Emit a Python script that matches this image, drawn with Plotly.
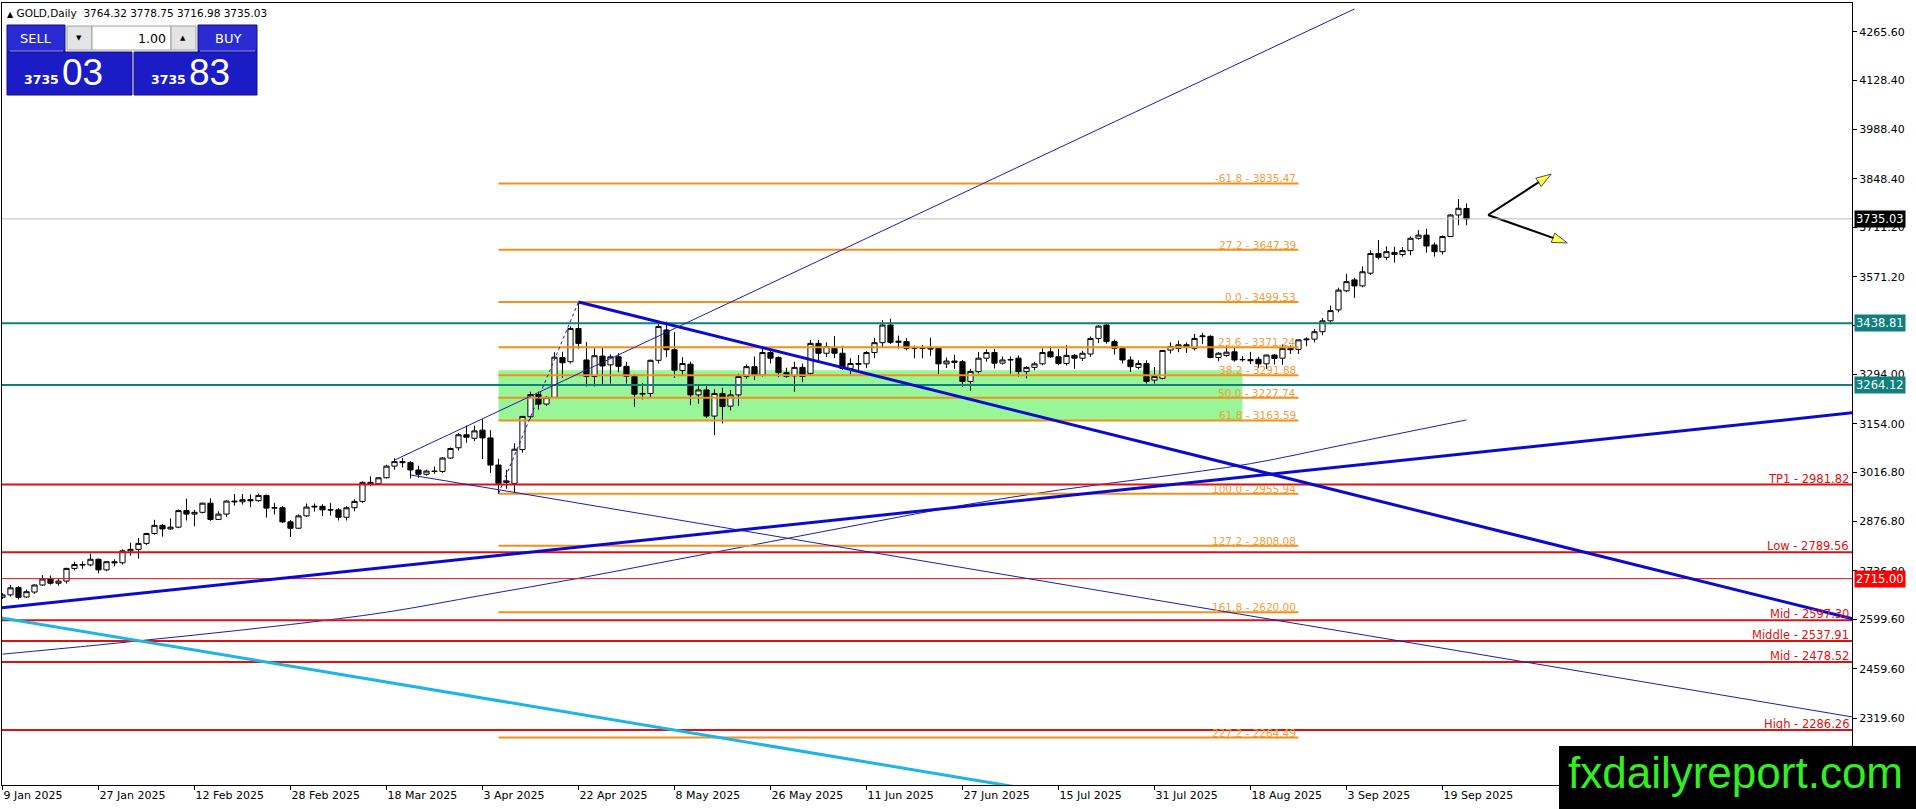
"""GOLD daily chart (MT4 style) rebuilt with Plotly."""

import plotly.graph_objects as go

# ------------------------------------------------------------------ #
# Data
# ------------------------------------------------------------------ #
TICK_BARS = [0, 12, 24, 36, 48, 60, 72, 84, 96, 108, 120, 132, 144, 156, 168, 180]
TICK_LABELS = [
    "9 Jan 2025", "27 Jan 2025", "12 Feb 2025", "28 Feb 2025", "18 Mar 2025",
    "3 Apr 2025", "22 Apr 2025", "8 May 2025", "26 May 2025", "11 Jun 2025",
    "27 Jun 2025", "15 Jul 2025", "31 Jul 2025", "18 Aug 2025", "3 Sep 2025",
    "19 Sep 2025",
]

PRICE_TICKS = [4265.60, 4128.40, 3988.40, 3848.40, 3711.20, 3571.20, 3434.00, 3294.00,
               3154.00, 3016.80, 2876.80, 2736.80, 2599.60, 2459.60, 2319.60]

OPEN = [
    2662, 2669, 2690, 2663, 2677, 2697, 2714, 2702, 2708, 2744, 2755, 2754,
    2770, 2740, 2763, 2760, 2794, 2798, 2815, 2843, 2866, 2856, 2861, 2908,
    2898, 2903, 2929, 2883, 2898, 2935, 2933, 2939, 2936, 2951, 2915, 2916,
    2876, 2858, 2893, 2918, 2920, 2910, 2910, 2889, 2916, 2934, 2988, 2984,
    3001, 3034, 3047, 3044, 3023, 3011, 3020, 3019, 3057, 3086, 3123, 3113,
    3136, 3114, 3037, 2988, 2985, 3081, 3174, 3237, 3210, 3229, 3342, 3330,
    3424, 3335, 3288, 3346, 3321, 3344, 3317, 3288, 3238, 3240, 3334, 3420,
    3364, 3305, 3323, 3236, 3250, 3176, 3240, 3204, 3236, 3288, 3316, 3292,
    3356, 3342, 3299, 3290, 3314, 3297, 3382, 3354, 3368, 3354, 3311, 3325,
    3324, 3356, 3384, 3434, 3385, 3387, 3368, 3369, 3370, 3368, 3324, 3332,
    3330, 3274, 3302, 3340, 3356, 3326, 3335, 3340, 3302, 3314, 3324, 3358,
    3344, 3325, 3348, 3340, 3352, 3396, 3434, 3387, 3368, 3335, 3314, 3325,
    3278, 3283, 3363, 3368, 3378, 3368, 3401, 3402, 3342, 3348, 3358, 3336,
    3336, 3337, 3324, 3349, 3340, 3368, 3365, 3392, 3394, 3415, 3446, 3477,
    3531, 3562, 3545, 3581, 3637, 3626, 3640, 3634, 3645, 3680, 3689, 3661,
    3642, 3685, 3746, 3764.32,
]
HIGH = [
    2674, 2697, 2694, 2684, 2699, 2725, 2724, 2715, 2746, 2763, 2764, 2786,
    2772, 2765, 2770, 2798, 2817, 2830, 2845, 2882, 2870, 2886, 2911, 2942,
    2910, 2930, 2943, 2906, 2937, 2955, 2955, 2954, 2956, 2953, 2930, 2921,
    2881, 2897, 2928, 2928, 2926, 2930, 2915, 2920, 2940, 2990, 3005, 3002,
    3038, 3056, 3057, 3048, 3035, 3024, 3033, 3060, 3087, 3128, 3149, 3149,
    3167, 3136, 3055, 3024, 3099, 3176, 3245, 3245, 3232, 3357, 3358, 3430,
    3499.53, 3386, 3368, 3370, 3351, 3354, 3330, 3295, 3270, 3336, 3437, 3444,
    3414, 3343, 3330, 3262, 3264, 3252, 3256, 3250, 3296, 3322, 3345, 3366,
    3365, 3345, 3313, 3330, 3325, 3392, 3392, 3385, 3403, 3375, 3340, 3349,
    3360, 3398, 3448, 3452, 3404, 3397, 3376, 3377, 3398, 3370, 3342, 3350,
    3335, 3310, 3358, 3365, 3366, 3345, 3345, 3348, 3318, 3330, 3368, 3375,
    3366, 3377, 3352, 3361, 3402, 3434, 3439, 3393, 3373, 3345, 3334, 3334,
    3315, 3363, 3385, 3390, 3385, 3409, 3412, 3405, 3357, 3375, 3370, 3346,
    3358, 3344, 3350, 3352, 3379, 3376, 3393, 3399, 3423, 3454, 3489, 3540,
    3579, 3568, 3600, 3646, 3675, 3657, 3656, 3655, 3685, 3703, 3707, 3668,
    3688, 3749, 3791, 3778.75,
]
LOW = [
    2657, 2664, 2656, 2660, 2672, 2694, 2698, 2695, 2701, 2738, 2743, 2750,
    2730, 2736, 2750, 2755, 2780, 2772, 2810, 2840, 2834, 2853, 2858, 2880,
    2864, 2900, 2879, 2881, 2890, 2922, 2925, 2918, 2933, 2888, 2897, 2873,
    2833, 2856, 2890, 2905, 2893, 2894, 2880, 2880, 2906, 2930, 2977, 2982,
    2999, 3024, 3030, 2999, 3001, 3007, 3012, 3015, 3054, 3078, 3100, 3105,
    3054, 3015, 2955.94, 2970, 2957, 3072, 3168, 3194, 3205, 3228, 3284, 3325,
    3367, 3260, 3260, 3265, 3268, 3300, 3268, 3202, 3223, 3230, 3325, 3343,
    3284, 3290, 3207, 3211, 3170, 3122, 3155, 3192, 3205, 3282, 3278, 3288,
    3325, 3286, 3285, 3245, 3272, 3290, 3333, 3343, 3340, 3307, 3294, 3300,
    3312, 3340, 3370, 3380, 3367, 3362, 3340, 3340, 3347, 3295, 3312, 3310,
    3259, 3248, 3297, 3330, 3311, 3322, 3296, 3288, 3283, 3306, 3320, 3341,
    3320, 3319, 3310, 3332, 3344, 3383, 3381, 3351, 3325, 3301, 3308, 3268,
    3268, 3280, 3353, 3357, 3355, 3362, 3380, 3340, 3331, 3344, 3330, 3330,
    3323, 3312, 3310, 3322, 3321, 3352, 3352, 3374, 3385, 3405, 3436, 3470,
    3527, 3511, 3541, 3576, 3620, 3618, 3611, 3628, 3632, 3676, 3639, 3628,
    3634, 3683, 3717, 3716.98,
]
CLOSE = [
    2669, 2689, 2662, 2678, 2697, 2714, 2702, 2708, 2744, 2755, 2754, 2770,
    2740, 2763, 2760, 2794, 2798, 2815, 2843, 2866, 2856, 2861, 2908, 2898,
    2903, 2929, 2883, 2898, 2935, 2933, 2939, 2936, 2951, 2915, 2916, 2876,
    2858, 2893, 2918, 2920, 2910, 2910, 2889, 2916, 2934, 2988, 2984, 3001,
    3034, 3047, 3044, 3023, 3011, 3020, 3019, 3057, 3084, 3123, 3116, 3134,
    3114, 3037, 2985, 2992, 3082, 3175, 3237, 3210, 3229, 3343, 3327, 3424,
    3382, 3288, 3347, 3318, 3344, 3317, 3289, 3238, 3240, 3334, 3430, 3364,
    3306, 3325, 3236, 3250, 3176, 3240, 3203, 3236, 3288, 3316, 3292, 3356,
    3340, 3299, 3288, 3314, 3288, 3382, 3354, 3373, 3354, 3311, 3325, 3323,
    3356, 3384, 3434, 3385, 3388, 3368, 3369, 3368, 3366, 3324, 3332, 3328,
    3274, 3302, 3340, 3356, 3326, 3335, 3336, 3302, 3314, 3324, 3356, 3344,
    3325, 3348, 3340, 3354, 3396, 3431, 3387, 3368, 3335, 3316, 3325, 3274,
    3288, 3362, 3373, 3378, 3370, 3396, 3403, 3342, 3354, 3357, 3335, 3336,
    3333, 3324, 3349, 3339, 3368, 3364, 3392, 3394, 3415, 3446, 3475, 3533,
    3557, 3545, 3585, 3637, 3626, 3642, 3634, 3645, 3680, 3689, 3658, 3642,
    3685, 3746, 3765, 3735.03,
]

# 200-day moving average
MA_BARS = [0, 12, 24, 36, 48, 60, 72, 84, 96, 108, 120, 132, 144, 156, 168, 183]
MA_VALUES = [2501, 2527, 2555, 2585, 2620, 2668, 2716, 2768, 2820, 2872, 2923, 2966,
             3002, 3041, 3096, 3165]

# Fibonacci retracement (anchored Apr 7 low -> Apr 22 high)
FIB_RATIOS = ["-61.8", "27.2", "0.0", "23.6", "38.2", "50.0", "61.8", "100.0",
              "127.2", "161.8", "227.2"]
FIB_PRICES = [3835.47, 3647.39, 3499.53, 3371.24, 3291.88, 3227.74, 3163.59, 2955.94,
              2808.08, 2620.00, 2264.49]
FIB_SPAN = [62, 162]
FIB_DIAG_BARS = [62, 72]
FIB_DIAG_PRICES = [2955.94, 3499.53]

ZONE_BARS = [62, 155]
ZONE_PRICES = [3163.59, 3306.0]

RED_NAMES = ["TP1", "Low", "Mid", "Middle", "Mid", "High"]
RED_PRICES = [2981.82, 2789.56, 2597.30, 2537.91, 2478.52, 2286.26]
PLAIN_RED = 2715.00
TEAL_PRICES = [3438.81, 3264.12]
BID = 3735.03

# trend lines: (bars, prices)
THICK_DOWN = ([72, 232], [3499.53, 2597])
THICK_UP = ([-1, 232], [2630, 3187])
THIN_UP = ([49, 169], [3051, 4330])
THIN_DOWN = ([51, 232], [3009, 2320])
CYAN_DOWN = ([-1, 130], [2607, 2112])

# forecast arrows (start, two tips)
ARROW_START = (185.7, 3746)
ARROW_TIPS = [(193.6, 3862), (195.6, 3667)]

# ------------------------------------------------------------------ #
# Geometry helpers (pixel -> paper)
# ------------------------------------------------------------------ #
W, H = 1916, 809
ML, MR, MT, MB = 2, 64, 3, 24


def px(x):
    return (x - ML) / (W - ML - MR)


def py(y):
    return 1 - (y - MT) / (H - MT - MB)


FONT = "DejaVu Sans"
RED = "#e01010"
ORANGE = "#f39018"
TEAL = "#0f7f7f"
BLUE = "#0b0bd0"
NAVY = "#1c1cae"

bars = list(range(len(CLOSE)))

fig = go.Figure()

fig.add_trace(go.Candlestick(
    x=bars, open=OPEN, high=HIGH, low=LOW, close=CLOSE,
    increasing=dict(line=dict(color="black", width=1), fillcolor="white"),
    decreasing=dict(line=dict(color="black", width=1), fillcolor="black"),
    whiskerwidth=0, hoverinfo="skip", showlegend=False,
))

fig.add_trace(go.Scatter(
    x=MA_BARS, y=MA_VALUES, mode="lines",
    line=dict(color=NAVY, width=1, shape="spline"),
    hoverinfo="skip", showlegend=False,
))

# green zone (background)
fig.add_shape(type="rect", xref="x", yref="y", layer="below",
              x0=ZONE_BARS[0], x1=ZONE_BARS[1], y0=ZONE_PRICES[0], y1=ZONE_PRICES[1],
              fillcolor="#98f598", line=dict(width=0))

# horizontal levels
fig.add_shape(type="line", xref="paper", yref="y", x0=0, x1=1, y0=BID, y1=BID,
              line=dict(color="#c0c0c0", width=1))
for p in TEAL_PRICES:
    fig.add_shape(type="line", xref="paper", yref="y", x0=0, x1=1, y0=p, y1=p,
                  line=dict(color=TEAL, width=2))
for p in RED_PRICES:
    fig.add_shape(type="line", xref="paper", yref="y", x0=0, x1=1, y0=p, y1=p,
                  line=dict(color=RED, width=2))
fig.add_shape(type="line", xref="paper", yref="y", x0=0, x1=1, y0=PLAIN_RED, y1=PLAIN_RED,
              line=dict(color=RED, width=1))

for ratio, p in zip(FIB_RATIOS, FIB_PRICES):
    fig.add_shape(type="line", xref="x", yref="y", x0=FIB_SPAN[0], x1=FIB_SPAN[1],
                  y0=p, y1=p, line=dict(color=ORANGE, width=2))
    fig.add_annotation(x=FIB_SPAN[1], y=p, xref="x", yref="y", text=f"{ratio} - {p:.2f}",
                       showarrow=False, xanchor="right", yanchor="bottom", yshift=-3,
                       font=dict(family=FONT, size=10.5, color="#f0a03c"))

for name, p in zip(RED_NAMES, RED_PRICES):
    fig.add_annotation(x=1, y=p, xref="paper", yref="y", text=f"{name} - {p:.2f}",
                       showarrow=False, xanchor="right", yanchor="bottom", yshift=-3,
                       xshift=-1, font=dict(family=FONT, size=11.5, color=RED))

# trend lines
for (xs, ys), color, width in [
    (THICK_DOWN, BLUE, 3), (THICK_UP, BLUE, 3), (THIN_UP, NAVY, 1),
    (THIN_DOWN, NAVY, 1), (CYAN_DOWN, "#1eb4e6", 3),
]:
    fig.add_shape(type="line", xref="x", yref="y", x0=xs[0], x1=xs[1], y0=ys[0], y1=ys[1],
                  line=dict(color=color, width=width))
fig.add_shape(type="line", xref="x", yref="y", x0=FIB_DIAG_BARS[0], x1=FIB_DIAG_BARS[1],
              y0=FIB_DIAG_PRICES[0], y1=FIB_DIAG_PRICES[1],
              line=dict(color=NAVY, width=1, dash="dot"))

# forecast arrows
for tip in ARROW_TIPS:
    fig.add_trace(go.Scatter(
        x=[ARROW_START[0], tip[0]], y=[ARROW_START[1], tip[1]], mode="lines+markers",
        line=dict(color="black", width=2),
        marker=dict(symbol="arrow", size=[0, 16], angleref="previous", color="#ffff00",
                    line=dict(color="black", width=1)),
        hoverinfo="skip", showlegend=False,
    ))

# right-axis price tags
for p, bg in [(BID, "black"), (TEAL_PRICES[0], TEAL), (TEAL_PRICES[1], TEAL),
              (PLAIN_RED, "#ff0000")]:
    fig.add_annotation(x=1, y=p, xref="paper", yref="y", text=f"{p:.2f}", showarrow=False,
                       xanchor="left", xshift=2, bgcolor=bg, borderpad=1,
                       font=dict(family=FONT, size=11.5, color="white"))

# ------------------------------------------------------------------ #
# MT4 decorations: header, one-click panel, watermark
# ------------------------------------------------------------------ #
fig.add_annotation(x=px(5), y=py(13), xref="paper", yref="paper", showarrow=False,
                   xanchor="left", yanchor="middle",
                   text="<span style='font-size:8px'>▲</span> GOLD,Daily  3764.32 3778.75 3716.98 3735.03",
                   font=dict(family=FONT, size=10.5, color="black"))

PANEL_BLUE = "#1c1cc6"
for x0, y0, x1, y1, fill, edge in [
    (7, 25, 65, 52, "#2b2bd4", "#10107a"),
    (198, 25, 257, 52, "#2b2bd4", "#10107a"),
    (7, 52, 132, 95, PANEL_BLUE, "#10107a"),
    (134, 52, 257, 95, PANEL_BLUE, "#10107a"),
    (67, 26, 92, 50, "#e4e4e4", "#a0a0a0"),
    (92, 26, 171, 50, "white", "#a0a0a0"),
    (171, 26, 196, 50, "#e4e4e4", "#a0a0a0"),
]:
    fig.add_shape(type="rect", xref="paper", yref="paper", layer="above",
                  x0=px(x0), x1=px(x1), y0=py(y0), y1=py(y1),
                  fillcolor=fill, line=dict(color=edge, width=1))
for x0, x1 in [(10, 63), (200, 255)]:
    fig.add_shape(type="line", xref="paper", yref="paper", layer="above",
                  x0=px(x0), x1=px(x1), y0=py(51), y1=py(51),
                  line=dict(color="#8a8ae6", width=1))

for x, y, text, size, color, anchor in [
    (36, 38, "SELL", 13, "white", "center"),
    (228, 38, "BUY", 13, "white", "center"),
    (168, 38, "1.00", 12.5, "black", "right"),
    (79, 38, "▼", 7, "black", "center"),
    (183, 38, "▲", 7, "black", "center"),
    (41, 80, "<b>3735</b>", 12.5, "white", "center"),
    (82, 73, "03", 37, "white", "center"),
    (168, 80, "<b>3735</b>", 12.5, "white", "center"),
    (209, 73, "83", 37, "white", "center"),
]:
    fig.add_annotation(x=px(x), y=py(y), xref="paper", yref="paper", text=text,
                       showarrow=False, xanchor=anchor, yanchor="middle",
                       font=dict(family=FONT if size < 20 else "Liberation Sans",
                                 size=size, color=color))

fig.add_shape(type="rect", xref="paper", yref="paper", layer="above",
              x0=px(1559), x1=px(1916), y0=py(746), y1=py(809),
              fillcolor="black", line=dict(width=0))
fig.add_annotation(x=px(1735), y=py(772), xref="paper", yref="paper",
                   text="fxdailyreport.com", showarrow=False,
                   xanchor="center", yanchor="middle",
                   font=dict(family="Liberation Sans Narrow, Liberation Sans", size=44,
                             color="#33ee22"))

# ------------------------------------------------------------------ #
# Layout
# ------------------------------------------------------------------ #
fig.update_layout(
    width=W, height=H,
    margin=dict(l=ML, r=MR, t=MT, b=MB),
    paper_bgcolor="white", plot_bgcolor="white",
    boxgap=0.35, boxgroupgap=0,
    showlegend=False,
    xaxis=dict(
        range=[-0.06, 231.19], rangeslider=dict(visible=False),
        tickmode="array", tickvals=TICK_BARS, ticktext=TICK_LABELS,
        ticks="outside", ticklen=4, tickcolor="black", ticklabelposition="outside right",
        showgrid=False, zeroline=False, showline=True, linecolor="black", linewidth=1,
        mirror=True, tickfont=dict(family=FONT, size=11, color="black"),
    ),
    yaxis=dict(
        range=[2130, 4347], side="right",
        tickmode="array", tickvals=PRICE_TICKS, ticktext=[f"{v:.2f}" for v in PRICE_TICKS],
        ticks="outside", ticklen=4, tickcolor="black",
        showgrid=False, zeroline=False, showline=True, linecolor="black", linewidth=1,
        mirror=True, tickfont=dict(family=FONT, size=11, color="black"),
    ),
)

# the page body has a default 8px margin; drop it so the chart fills the window
fig.write_html("out.html", config={"displayModeBar": False},
               post_script="document.body.style.margin = '0';")
